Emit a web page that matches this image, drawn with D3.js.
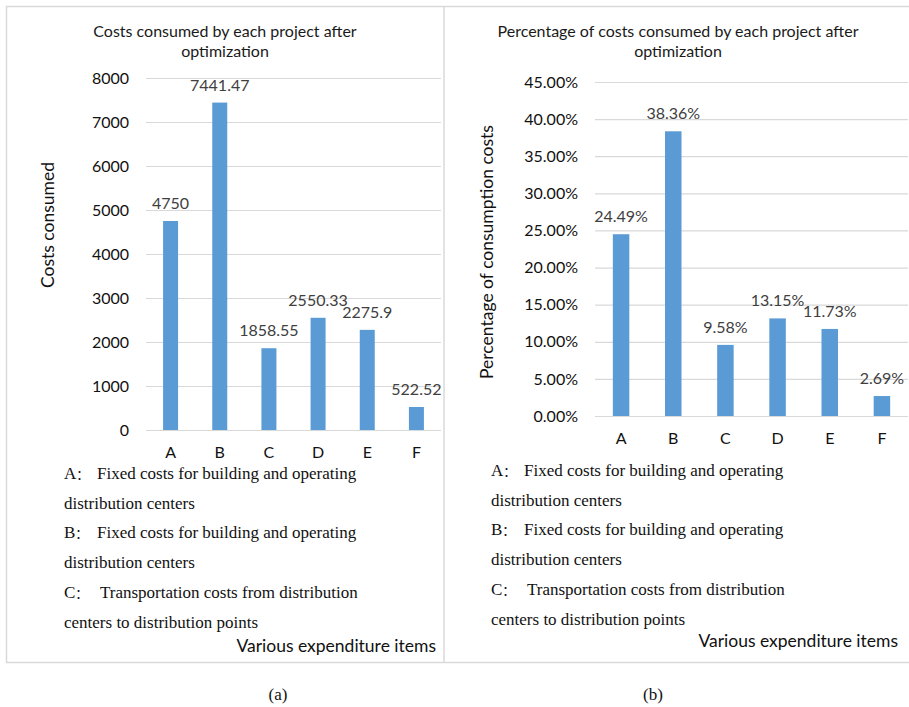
<!DOCTYPE html>
<html>
<head>
<meta charset="utf-8">
<script src="https://cdn.jsdelivr.net/npm/d3@7"></script>
<style>
  body { margin: 0; background: #fff; }
  svg text { font-family: Lato, "Open Sans", sans-serif; }
</style>
</head>
<body>
<svg id="draw-here"></svg>
<script>
// data
const categories = ['A', 'B', 'C', 'D', 'E', 'F'];
const costs = [4750, 7441.47, 1858.55, 2550.33, 2275.9, 522.52];
const costLabels = ['4750', '7441.47', '1858.55', '2550.33', '2275.9', '522.52'];
const shares = [0.2449, 0.3836, 0.0958, 0.1315, 0.1173, 0.0269];
const costTicks = [0, 1000, 2000, 3000, 4000, 5000, 6000, 7000, 8000];
const shareTicks = [0, 0.05, 0.10, 0.15, 0.20, 0.25, 0.30, 0.35, 0.40, 0.45];
const notes = [
  ['A', 'Fixed costs for building and operating'],
  ['', 'distribution centers'],
  ['B', 'Fixed costs for building and operating'],
  ['', 'distribution centers'],
  ['C', ' Transportation costs from distribution'],
  ['', 'centers to distribution points']
];

const blue = '#5b9bd5';
const grid = '#d9d9d9';
const serif = '"Liberation Serif", "Times New Roman", serif';

let svg = d3.select('#draw-here')
  .attr('width', 909)
  .attr('height', 707);

// panel borders
svg.append('path')
  .attr('d', 'M6.5,663 V6.5 H909 M444,6.5 V662.5 M6.5,662.5 H909')
  .attr('fill', 'none')
  .attr('stroke', grid)
  .attr('stroke-width', 1.5);

function drawPanel(opt) {
  let g = svg.append('g');
  let x = d3.scaleBand().domain(categories).range(opt.xRange).paddingInner(opt.pad).paddingOuter(opt.pad / 2);
  let y = d3.scaleLinear().domain(opt.domain).range(opt.yRange);

  // title
  opt.title.forEach((t, i) => {
    g.append('text')
      .attr('x', opt.titleX).attr('y', 37 + i * 20)
      .attr('text-anchor', 'middle')
      .attr('font-size', 16)
      .attr('fill', '#1a1a1a')
      .text(t);
  });

  // gridlines
  let yAxis = d3.axisLeft(y).tickValues(opt.ticks).tickFormat(opt.fmt)
    .tickSize(-(opt.xRange[1] - opt.xRange[0])).tickPadding(17);
  let ag = g.append('g')
    .attr('transform', 'translate(' + opt.xRange[0] + ',0)')
    .call(yAxis);
  ag.select('.domain').remove();
  ag.selectAll('.tick line').attr('stroke', grid).attr('stroke-width', 1.2);
  ag.selectAll('.tick text').attr('font-size', 16).attr('fill', '#111')
    .attr('font-family', 'Lato, sans-serif');

  // bars
  let bw = opt.barW;
  g.selectAll('rect.bar')
    .data(opt.values)
    .enter().append('rect')
    .attr('class', 'bar')
    .attr('x', (d, i) => x(categories[i]) + x.bandwidth() / 2 - bw / 2)
    .attr('width', bw)
    .attr('y', d => y(d))
    .attr('height', d => y(0) - y(d))
    .attr('fill', blue);

  // data labels
  g.selectAll('text.lbl')
    .data(opt.values)
    .enter().append('text')
    .attr('class', 'lbl')
    .attr('x', (d, i) => x(categories[i]) + x.bandwidth() / 2)
    .attr('y', d => y(d) - 12)
    .attr('text-anchor', 'middle')
    .attr('font-size', 16)
    .attr('fill', '#404040')
    .text((d, i) => opt.labels[i]);

  // categories
  let xAxis = d3.axisBottom(x).tickSize(0).tickPadding(0);
  let xg = g.append('g')
    .attr('transform', 'translate(0,' + (y(0) + 28) + ')')
    .call(xAxis);
  xg.select('.domain').remove();
  xg.selectAll('.tick text').attr('font-size', 16).attr('fill', '#111')
    .attr('font-family', 'Lato, sans-serif').attr('dy', 0);

  // y axis title
  g.append('text')
    .attr('transform', 'translate(' + opt.yTitleX + ',' + opt.yTitleY + ') rotate(-90)')
    .attr('text-anchor', 'middle')
    .attr('font-size', 17.5)
    .attr('fill', '#111')
    .text(opt.yTitle);

  // notes in serif
  notes.forEach((n, i) => {
    let yy = opt.noteY + i * 29.7;
    let t = g.append('text')
      .attr('y', yy)
      .attr('font-size', 17)
      .attr('fill', '#111')
      .style('font-family', serif);
    if (n[0]) {
      t.append('tspan').attr('x', opt.noteX).text(n[0]);
      t.append('tspan').text('：')
        .style('font-family', '"Noto Sans CJK SC", serif').attr('font-size', 13);
      t.append('tspan').attr('x', opt.noteX + 33 + (n[1][0] === ' ' ? 3 : 0)).text(n[1].trim());
    } else {
      t.append('tspan').attr('x', opt.noteX).text(n[1]);
    }
  });

  // x axis title
  g.append('text')
    .attr('x', opt.xTitleX).attr('y', opt.xTitleY)
    .attr('text-anchor', 'end')
    .attr('font-size', 17.5)
    .attr('fill', '#111')
    .text('Various expenditure items');

  // caption
  g.append('text')
    .attr('x', opt.capX).attr('y', 700)
    .attr('text-anchor', 'middle')
    .attr('font-size', 17)
    .attr('fill', '#111')
    .style('font-family', serif)
    .text(opt.caption);
}

drawPanel({
  values: costs,
  labels: costLabels,
  domain: [0, 8000],
  ticks: costTicks,
  fmt: d3.format('d'),
  xRange: [146, 441],
  yRange: [430, 78],
  pad: 0.69,
  barW: 15,
  title: ['Costs consumed by each project after', 'optimization'],
  titleX: 225,
  yTitle: 'Costs consumed',
  yTitleX: 54,
  yTitleY: 225,
  noteX: 64,
  noteY: 479,
  xTitleX: 436,
  xTitleY: 652,
  capX: 278,
  caption: '(a)'
});

drawPanel({
  values: shares,
  labels: shares.map(d3.format('.2%')),
  domain: [0, 0.45],
  ticks: shareTicks,
  fmt: d3.format('.2%'),
  xRange: [595, 908],
  yRange: [416, 82],
  pad: 0.68,
  barW: 16.5,
  title: ['Percentage of costs consumed by each project after', 'optimization'],
  titleX: 678,
  yTitle: 'Percentage of consumption costs',
  yTitleX: 493,
  yTitleY: 252,
  noteX: 491,
  noteY: 476,
  xTitleX: 898,
  xTitleY: 647,
  capX: 653,
  caption: '(b)'
});
</script>
</body>
</html>
